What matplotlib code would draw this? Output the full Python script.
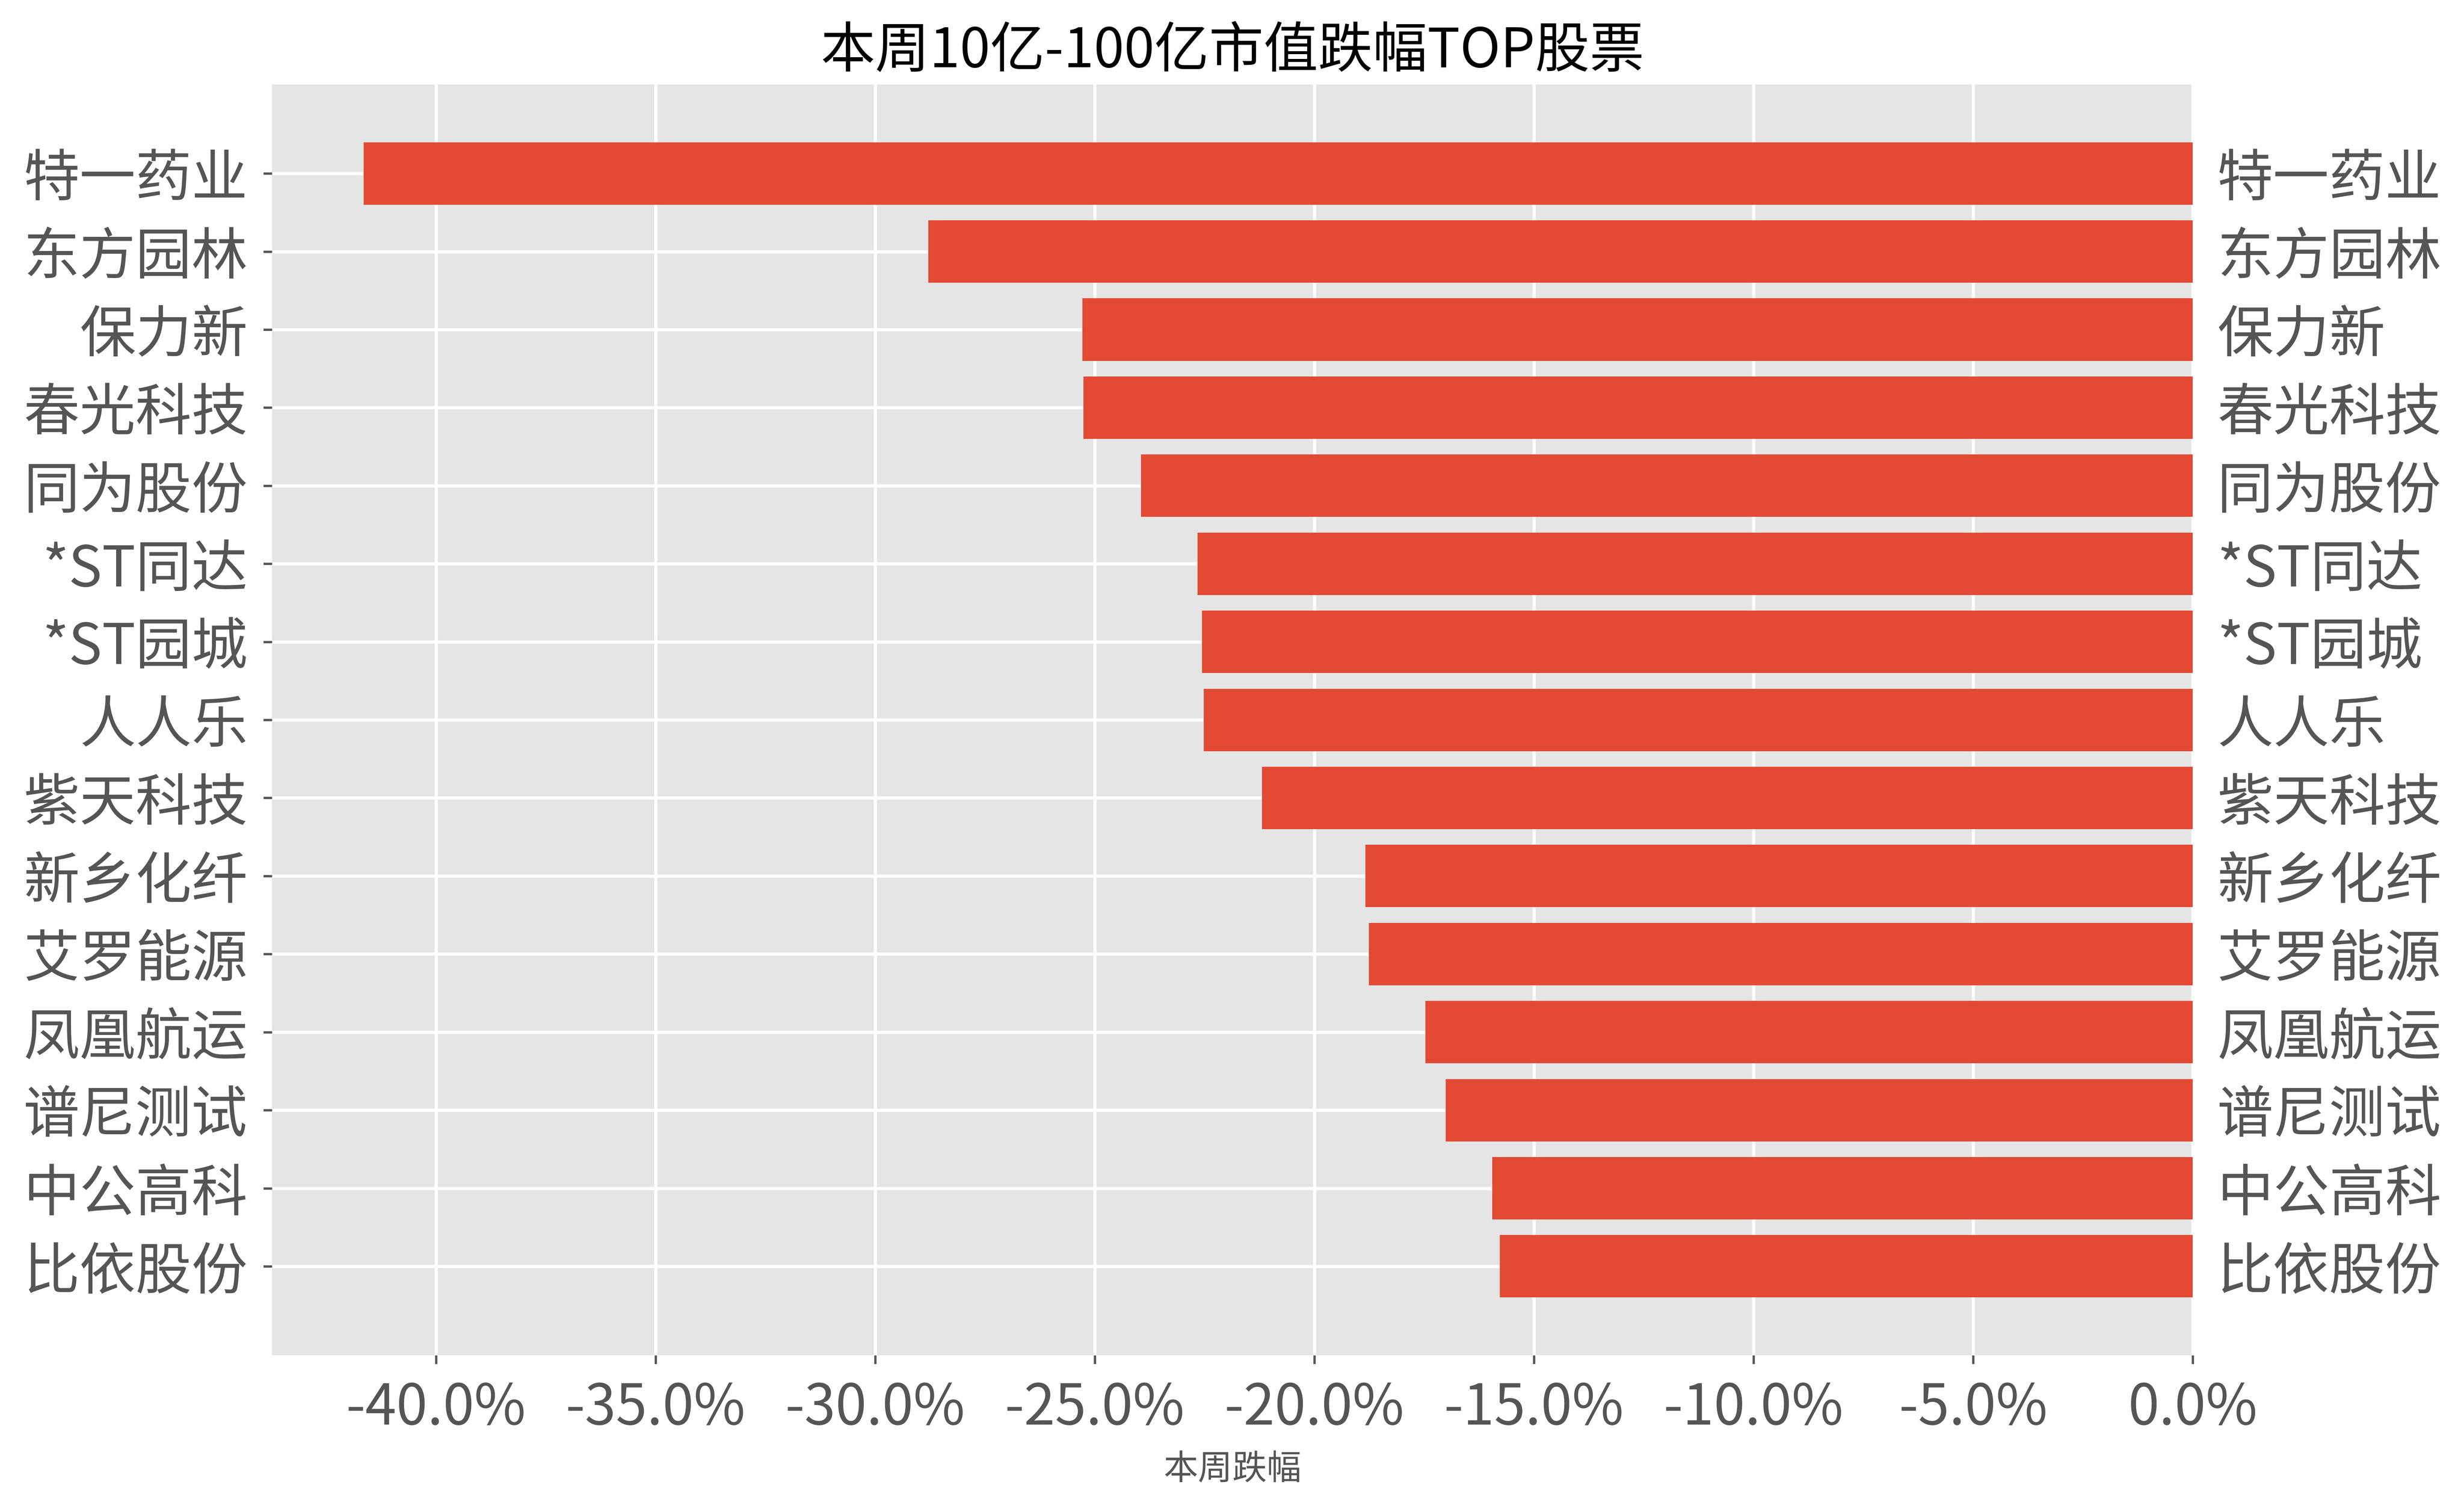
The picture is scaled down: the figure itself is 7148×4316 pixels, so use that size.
import matplotlib
matplotlib.use("Agg")
import matplotlib.pyplot as plt
from matplotlib.ticker import FuncFormatter

plt.style.use("ggplot")
plt.rcParams["font.family"] = ["Noto Sans CJK SC", "DejaVu Sans"]
plt.rcParams["axes.unicode_minus"] = False

names = ["特一药业", "东方园林", "保力新", "春光科技", "同为股份", "*ST同达", "*ST园城",
         "人人乐", "紫天科技", "新乡化纤", "艾罗能源", "凤凰航运", "谱尼测试", "中公高科", "比依股份"]
changes = [-41.65, -28.79, -25.28, -25.26, -23.95, -22.66, -22.56,
           -22.52, -21.19, -18.84, -18.76, -17.47, -17.01, -15.95, -15.78]
title = "本周10亿-100亿市值跌幅TOP股票"
xlabel = "本周跌幅"

fig = plt.figure(figsize=(7149 / 300, 4316 / 300), dpi=300)
ax = fig.add_axes([0.1104, 0.0892, 0.7794, 0.8540])

ypos = list(range(len(names)))
ax.barh(ypos, changes, height=0.8, color="#E24A33", zorder=2)
ax.set_yticks(ypos)
ax.set_yticklabels(names)
ax.invert_yaxis()

ax.grid(True, color="white", linewidth=2.2)
ax.set_axisbelow(True)

ax.xaxis.set_major_formatter(FuncFormatter(lambda v, p: f"{v:.1f}%"))
ax.tick_params(axis="both", labelsize=39, colors="#555555", length=6, width=1.6, pad=11)
ax.tick_params(axis="y", labelright=True, right=False)
for s in ax.spines.values():
    s.set_visible(False)

ax.set_title(title, fontsize=38, color="black", pad=12)
ax.set_xlabel(xlabel, fontsize=24, color="#555555", labelpad=10)

fig.savefig("out.png", dpi=300)
